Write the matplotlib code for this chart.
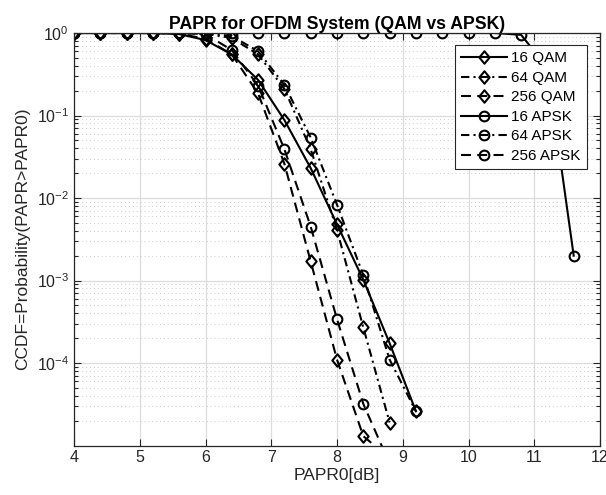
import matplotlib
matplotlib.use("Agg")
import matplotlib.pyplot as plt
import numpy as np
from matplotlib.ticker import LogLocator, FixedLocator
from matplotlib.path import Path

plt.rcParams['font.family'] = ['Liberation Sans', 'DejaVu Sans']
plt.rcParams['mathtext.fontset'] = 'custom'
plt.rcParams['mathtext.rm'] = 'Liberation Sans'
plt.rcParams['mathtext.it'] = 'Liberation Sans:italic'
plt.rcParams['mathtext.bf'] = 'Liberation Sans:bold'
plt.rcParams['mathtext.default'] = 'regular'

# ---- data ----
x_main = [4.0, 4.4, 4.8, 5.2, 5.6, 6.0, 6.4, 6.8, 7.2, 7.6, 8.0, 8.4, 8.8, 9.2]
qam16 = [1, 1, 1, 1, 0.97, 0.82, 0.55, 0.27, 0.088, 0.023, 0.0048, 0.00102, 1.74e-4, 2.6e-5]
x_qam64 = [4.0, 4.4, 4.8, 5.2, 5.6, 6.0, 6.4, 6.8, 7.2, 7.6, 8.0, 8.4, 8.8]
qam64 = [1, 1, 1, 1, 1, 0.98, 0.87, 0.55, 0.21, 0.039, 0.0041, 2.7e-4, 1.9e-5]
x_qam256 = [4.0, 4.4, 4.8, 5.2, 5.6, 6.0, 6.4, 6.8, 7.2, 7.6, 8.0, 8.4, 8.8]
qam256 = [1, 1, 1, 1, 0.98, 0.85, 0.55, 0.185, 0.026, 0.0017, 1.1e-4, 1.3e-5, 7e-6]
x_apsk16 = [4.0, 4.4, 4.8, 5.2, 5.6, 6.0, 6.4, 6.8, 7.2, 7.6, 8.0, 8.4, 8.8, 9.2,
            9.6, 10.0, 10.4, 10.8, 11.2, 11.6]
apsk16 = [1, 1, 1, 1, 1, 1, 1, 1, 1, 1, 1, 1, 1, 1, 1, 1, 1, 0.95, 0.38, 0.002]
apsk64 = [1, 1, 1, 1, 1, 1, 0.92, 0.6, 0.235, 0.054, 0.0083, 0.00116, 1.1e-4, 2.6e-5]
x_apsk256 = [4.0, 4.4, 4.8, 5.2, 5.6, 6.0, 6.4, 6.8, 7.2, 7.6, 8.0, 8.4, 8.8]
apsk256 = [1, 1, 1, 1, 1, 0.97, 0.62, 0.23, 0.039, 0.0045, 3.4e-4, 3.2e-5, 6e-6]

labels = ['16 QAM', '64 QAM', '256 QAM', '16 APSK', '64 APSK', '256 APSK']
title = 'PAPR for OFDM System (QAM vs APSK)'
xlabel = 'PAPR0[dB]'
ylabel = 'CCDF=Probability(PAPR>PAPR0)'
ytick_vals = [1e-4, 1e-3, 1e-2, 1e-1, 1e0]

fig = plt.figure(figsize=(6.06, 4.95), dpi=100)
ax = fig.add_axes([74/606, 49.5/495, 526/606, 412.5/495])

diamond = Path([(0, 1), (0.82, 0), (0, -1), (-0.82, 0), (0, 1)],
               [Path.MOVETO, Path.LINETO, Path.LINETO, Path.LINETO, Path.CLOSEPOLY])

dash = (0, (4.8, 3.0))
dashdot = (0, (4.0, 2.0, 1.0, 2.0))
lw = 1.5
common = dict(color='black', lw=lw, mfc='none', mec='black', mew=1.5)
dsz, osz = 9, 7

ax.plot(x_main, qam16, linestyle='-', marker=diamond, ms=dsz, label=labels[0], **common)
ax.plot(x_qam64, qam64, linestyle=dashdot, marker=diamond, ms=dsz, label=labels[1], **common)
ax.plot(x_qam256, qam256, linestyle=dash, marker=diamond, ms=dsz, label=labels[2], **common)
ax.plot(x_apsk16, apsk16, linestyle='-', marker='o', ms=osz, label=labels[3], **common)
ax.plot(x_main, apsk64, linestyle=dashdot, marker='o', ms=osz, label=labels[4], **common)
ax.plot(x_apsk256, apsk256, linestyle=dash, marker='o', ms=osz, label=labels[5], **common)

ax.set_yscale('log')
ax.set_xlim(4, 12)
ax.set_ylim(1e-5, 1)
ax.xaxis.set_major_locator(FixedLocator(np.arange(4, 13, 1)))
ax.yaxis.set_major_locator(FixedLocator(ytick_vals))
ax.yaxis.set_minor_locator(LogLocator(base=10, subs=np.arange(2, 10), numticks=20))

dark = '#262626'
for s in ax.spines.values():
    s.set_color(dark)
    s.set_linewidth(0.9)
ax.tick_params(which='both', direction='in', top=True, right=True, colors=dark,
               labelsize=11.5, width=0.8)
ax.tick_params(which='major', length=5)
ax.tick_params(which='minor', length=3)
ax.tick_params(axis='x', which='minor', top=False, bottom=False)

ax.grid(True, which='major', color='#dcdcdc', lw=0.9, ls='-')
ax.grid(True, which='minor', axis='y', color='#cccccc', lw=0.7, ls=(0, (1, 3)))
ax.set_axisbelow(True)

ax.set_title(title, fontsize=12.7, fontweight='bold', color='black', pad=3)
ax.set_xlabel(xlabel, fontsize=12.5, color=dark, labelpad=2)
ax.set_ylabel(ylabel, fontsize=12.5, color=dark)
ax.yaxis.set_label_coords(-0.083, 0.5)

leg = ax.legend(loc='upper right', bbox_to_anchor=(0.975, 0.97), fontsize=11,
                frameon=True, fancybox=False, edgecolor=dark, framealpha=1,
                handlelength=3.0, labelspacing=0.36, borderpad=0.4,
                handletextpad=0.3, borderaxespad=0)
leg.get_frame().set_linewidth(0.8)

fig.savefig('out.png', dpi=100)
